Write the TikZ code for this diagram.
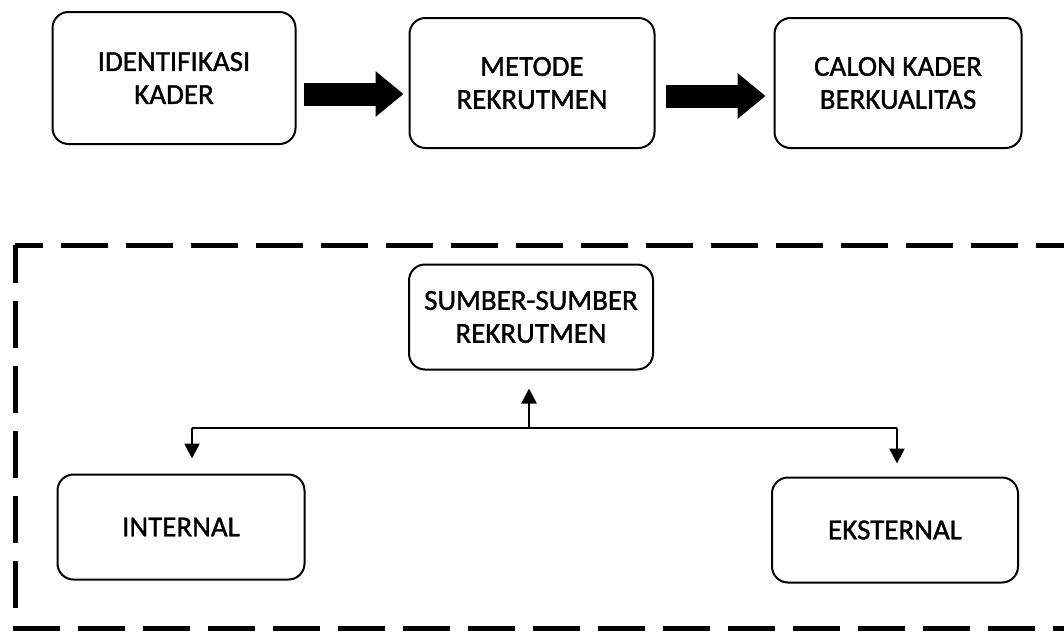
\documentclass[tikz,border=0pt]{standalone}
\usepackage{fontspec}
\setmainfont{Carlito}
\newfontfamily\boxfont{Carlito}[FakeBold=1.2]
\usetikzlibrary{arrows.meta}
\begin{document}
\begin{tikzpicture}[x=1pt,y=-1pt,
  box/.style={draw=black,line width=2pt,rounded corners=16pt,align=center,
    inner sep=0pt,font=\boxfont\fontsize{29}{33}\selectfont},
  bigarrow/.style={line width=23pt,-{Triangle[length=28pt,width=44pt]}},
  thinarrow/.style={line width=2.5pt,-{Triangle[length=15pt,width=15pt]}},
  dashline/.style={line width=5pt,dash pattern=on 47pt off 18pt}]
\clip (0,0) rectangle (1064,632);
\fill[white] (0,0) rectangle (1064,632);
% top row
\node[box,minimum width=243pt,minimum height=132pt] (b1) at (174,78) {IDENTIFIKASI\\KADER};
\node[box,minimum width=245pt,minimum height=130pt] (b2) at (532,83) {METODE\\REKRUTMEN};
\node[box,minimum width=247pt,minimum height=130pt] (b3) at (898,83) {CALON KADER\\BERKUALITAS};
\draw[bigarrow,shorten <=7pt,shorten >=5pt] (b1.east |- 0,94) -- (b2.west |- 0,94);
\draw[bigarrow,shorten <=10pt,shorten >=8pt] (b2.east |- 0,96) -- (b3.west |- 0,96);
% dashed frame
\coordinate (tl) at (15,245);
\coordinate (tr) at (1080,245);
\coordinate (bl) at (15,628);
\coordinate (br) at (1080,628);
\draw[dashline,dash phase=19pt] (tl) -- (tr);
\draw[dashline,dash phase=9pt] (tl) -- (bl);
\draw[dashline] ([xshift=-2.5pt]bl) -- (br);
% lower boxes
\node[box,minimum width=244pt,minimum height=105pt] (src) at (531,317) {SUMBER-SUMBER\\REKRUTMEN};
\node[box,minimum width=247pt,minimum height=105pt] (int) at (181,527) {INTERNAL};
\node[box,minimum width=246pt,minimum height=105pt] (ext) at (895,530) {EKSTERNAL};
% tree connectors
\coordinate (L) at (192,428);
\coordinate (M) at (529,428);
\coordinate (R) at (897,428);
\draw[line width=2.5pt] (L) -- (R);
\draw[thinarrow,shorten >=18pt] (M) -- (M |- src.south);
\draw[thinarrow,shorten >=15pt] (L) -- (L |- int.north);
\draw[thinarrow,shorten >=13pt] (R) -- (R |- ext.north);
\end{tikzpicture}
\end{document}
